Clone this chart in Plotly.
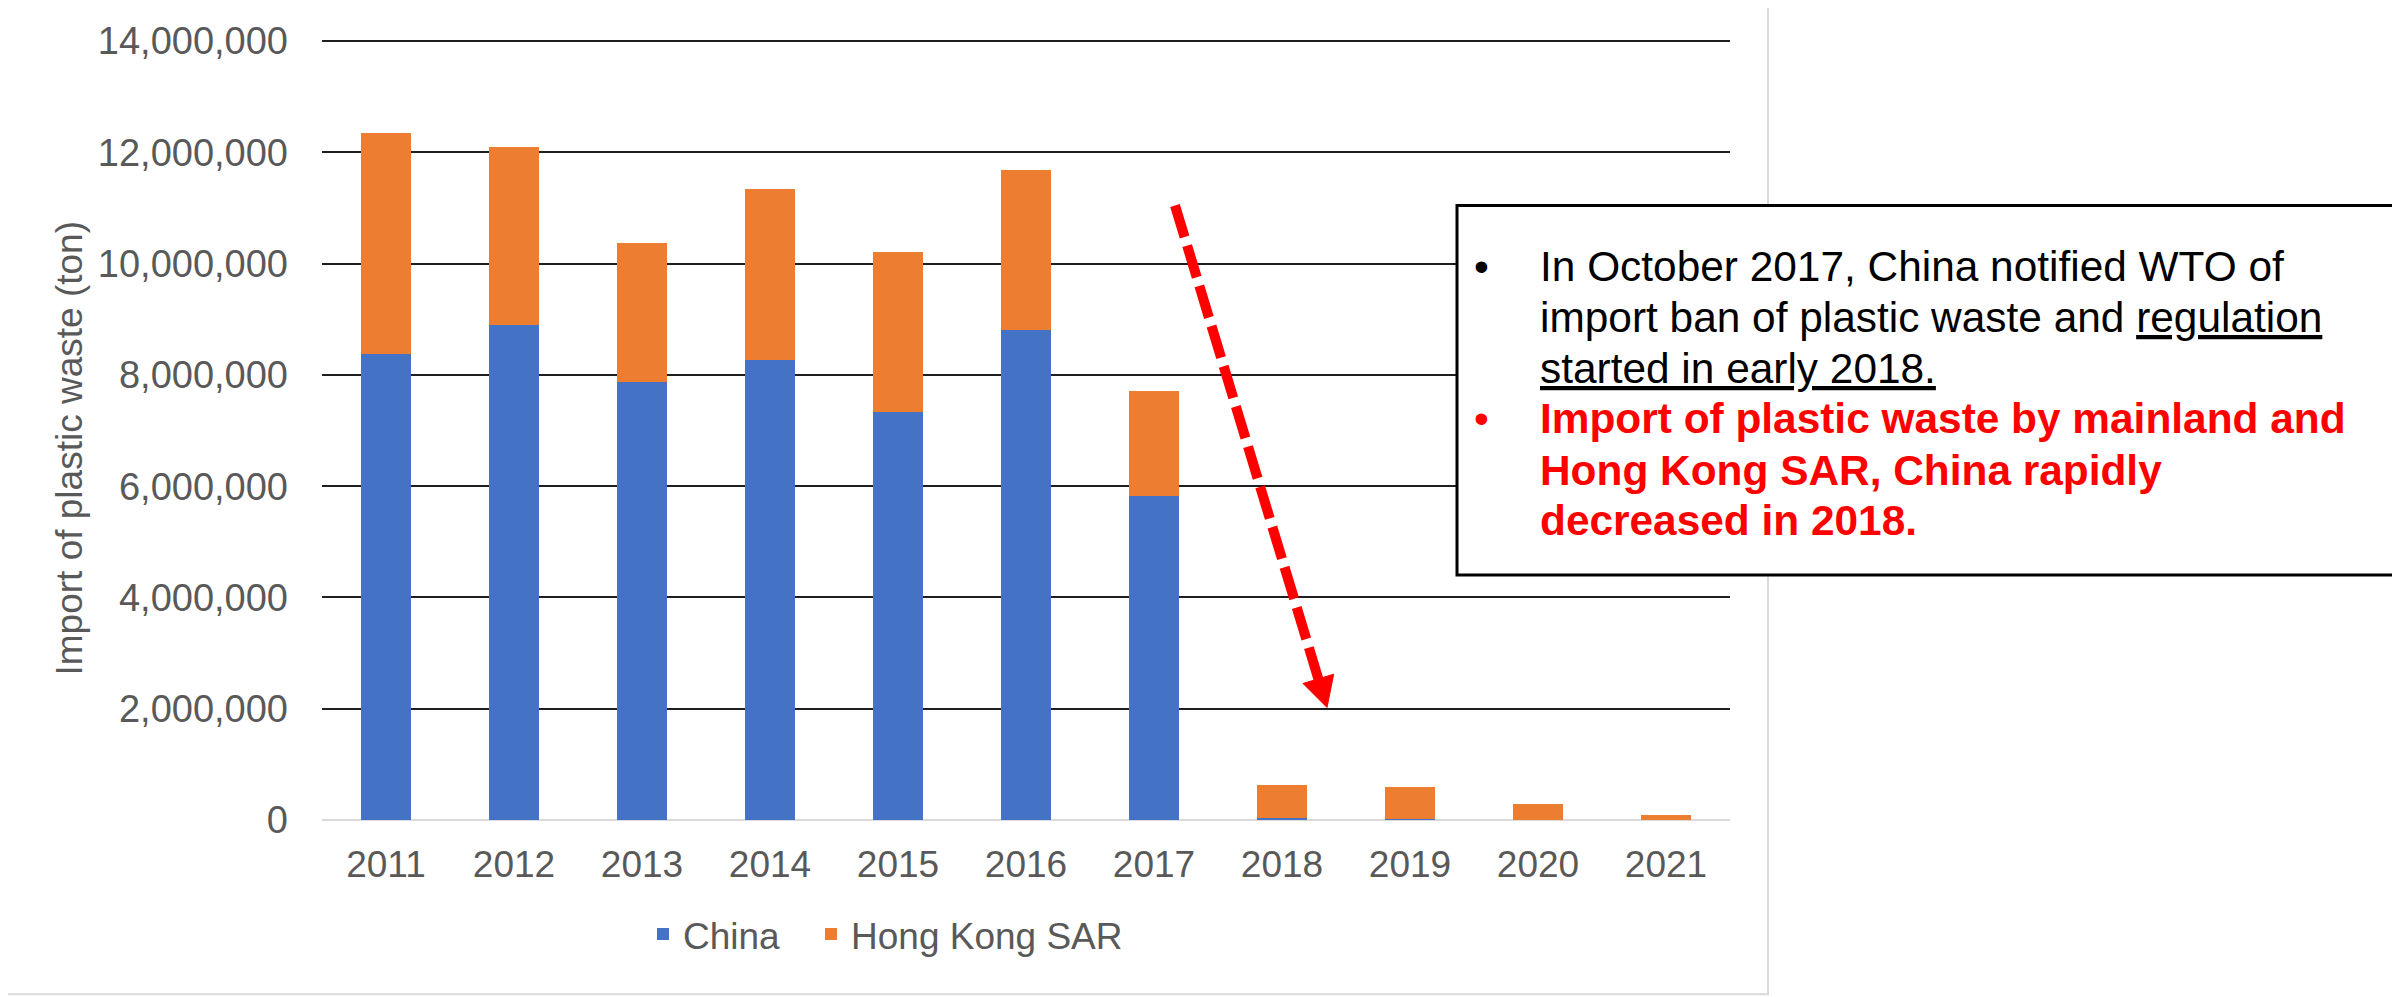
import plotly.graph_objects as go

# ---- data ----
years = ["2011", "2012", "2013", "2014", "2015", "2016", "2017", "2018", "2019", "2020", "2021"]
china = [8380000, 8890000, 7880000, 8260000, 7340000, 8810000, 5820000, 40000, 10000, 5000, 3000]
hong_kong = [3970000, 3200000, 2490000, 3090000, 2870000, 2880000, 1900000, 590000, 580000, 275000, 87000]
y_ticks = [0, 2000000, 4000000, 6000000, 8000000, 10000000, 12000000, 14000000]
y_tick_text = ["0", "2,000,000", "4,000,000", "6,000,000", "8,000,000", "10,000,000", "12,000,000", "14,000,000"]

black_lines = [
    "In October 2017, China notified WTO of",
    "import ban of plastic waste and <u>regulation</u>",
    "<u>started in early 2018.</u>",
]
red_lines = [
    "<b>Import of plastic waste by mainland and</b>",
    "<b>Hong Kong SAR, China rapidly</b>",
    "<b>decreased in 2018.</b>",
]

# ---- layout geometry (screen pixels, as measured on the reference) ----
W, H = 2400, 997
OFF = 8                      # page body margin offsets the figure by 8 px
L, R, B = 322, 1730, 820     # plot area on screen
Y_MAX = 14020000             # small headroom so the 14,000,000 gridline is drawn
PX_PER_UNIT = (820 - 38) / 14000000
T = B - Y_MAX * PX_PER_UNIT
FONT = "Arial, Liberation Sans, sans-serif"
GREY = "#595959"


def px(x):
    return (x - L) / (R - L)


def py(y):
    return (B - y) / (B - T)


fig = go.Figure()
fig.add_trace(go.Bar(x=years, y=china, name="China", legend="legend",
                     marker=dict(color="#4472C4", line=dict(width=0))))
fig.add_trace(go.Bar(x=years, y=hong_kong, name="Hong Kong SAR", legend="legend2",
                     marker=dict(color="#ED7D31", line=dict(width=0))))

shapes = []
# chart-area border
shapes.append(dict(type="rect", xref="paper", yref="paper", x0=px(2), x1=px(1768), y0=py(995), y1=py(1),
                   line=dict(color="#D9D9D9", width=2), fillcolor="rgba(0,0,0,0)", layer="below"))

# dashed red arrow
x0a, y0a = 1175, 203
xt, yt = 1327, 707
dx, dy = xt - x0a, yt - y0a
ln = (dx * dx + dy * dy) ** 0.5
ux, uy = dx / ln, dy / ln
head_len, head_half = 30, 16
bx, by = xt - head_len * ux, yt - head_len * uy
c1 = (bx + head_half * uy, by - head_half * ux)
c2 = (bx - head_half * uy, by + head_half * ux)
shapes.append(dict(type="line", xref="paper", yref="paper", x0=px(x0a), y0=py(y0a), x1=px(bx), y1=py(by),
                   line=dict(color="#FF0000", width=10, dash="33px,9px"), layer="above"))
shapes.append(dict(type="path", xref="paper", yref="paper",
                   path=f"M {px(xt)},{py(yt)} L {px(c1[0])},{py(c1[1])} L {px(c2[0])},{py(c2[1])} Z",
                   fillcolor="#FF0000", line=dict(color="#FF0000", width=1), layer="above"))

# text box
shapes.append(dict(type="rect", xref="paper", yref="paper", x0=px(1457), x1=px(2396), y0=py(574), y1=py(203),
                   line=dict(color="#000000", width=3), fillcolor="#FFFFFF", layer="above"))

annotations = []
annotations.append(dict(text="Import of plastic waste (ton)", textangle=-90, xref="paper", yref="paper",
                        x=px(69), y=py(447), xanchor="center", yanchor="middle", showarrow=False,
                        font=dict(family=FONT, size=37, color=GREY)))

BOX_FONT = 42.4
black_base = [277, 328, 380]
red_base = [430, 482, 532]
for txt, b in zip(black_lines, black_base):
    annotations.append(dict(text=txt, xref="paper", yref="paper", x=px(1538), y=py(b - 13),
                            xanchor="left", yanchor="middle", showarrow=False,
                            font=dict(family=FONT, size=BOX_FONT, color="#000000")))
for txt, b in zip(red_lines, red_base):
    annotations.append(dict(text=txt, xref="paper", yref="paper", x=px(1538), y=py(b - 13),
                            xanchor="left", yanchor="middle", showarrow=False,
                            font=dict(family=FONT, size=BOX_FONT, color="#FF0000")))
annotations.append(dict(text="•", xref="paper", yref="paper", x=px(1472), y=py(277 - 13),
                        xanchor="left", yanchor="middle", showarrow=False,
                        font=dict(family=FONT, size=BOX_FONT, color="#000000")))
annotations.append(dict(text="•", xref="paper", yref="paper", x=px(1472), y=py(430 - 13),
                        xanchor="left", yanchor="middle", showarrow=False,
                        font=dict(family=FONT, size=BOX_FONT, color="#FF0000")))

legend_common = dict(orientation="h", xanchor="left", y=py(935), yanchor="middle",
                     font=dict(family=FONT, size=37, color=GREY), bgcolor="rgba(0,0,0,0)")

fig.update_layout(
    width=W, height=H,
    margin=dict(l=L - OFF, r=W - (R - OFF), t=T - OFF, b=H - (B - OFF), pad=0),
    barmode="stack", bargap=0.61,
    paper_bgcolor="#FFFFFF", plot_bgcolor="#FFFFFF",
    font=dict(family=FONT, size=37, color=GREY),
    xaxis=dict(type="category", showgrid=False, showline=False, zeroline=False, ticks="",
               tickfont=dict(family=FONT, size=37, color=GREY), ticklabelstandoff=19),
    yaxis=dict(range=[0, Y_MAX], tickvals=y_ticks, ticktext=y_tick_text, showgrid=True,
               gridcolor="#1F1F1F", gridwidth=2, zeroline=True, zerolinecolor="#D9D9D9", zerolinewidth=2,
               showline=False, ticks="", ticklabelstandoff=33,
               tickfont=dict(family=FONT, size=38, color=GREY)),
    legend=dict(x=px(663 - 20), **legend_common),
    legend2=dict(x=px(831 - 20), **legend_common),
    shapes=shapes, annotations=annotations,
    showlegend=True,
)

fig.write_html("out.html")
